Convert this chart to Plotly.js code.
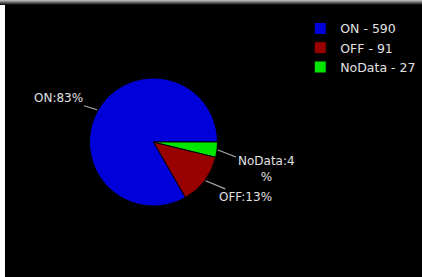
<!DOCTYPE html>
<html><head><meta charset="utf-8">
<script src="https://cdn.plot.ly/plotly-3.0.1.min.js"></script>
<style>
html,body{margin:0;padding:0;background:#fff;width:422px;height:277px;overflow:hidden;}
#wrap{position:absolute;left:5px;top:0;width:417px;height:277px;background:#000;}
#topbar{position:absolute;left:0;top:0;width:422px;height:5px;background:linear-gradient(#c8c8c8,#000);z-index:5;}
#chart{position:absolute;left:0;top:0;width:417px;height:277px;}
</style></head>
<body>
<div id="wrap"><div id="chart"></div></div>
<div id="topbar"></div>
<script>
const categories = ["ON", "OFF", "NoData"];
const counts = [590, 91, 27];
const percentLabels = ["83%", "13%", "4\n%"];
const colors = ["#0000d8", "#990000", "#00e600"];

const W = 417, H = 277;
const dom = {x: [0.2026, 0.5096], y: [0.2563, 0.7184]};
const cx = (dom.x[0] + dom.x[1]) / 2, cy = (dom.y[0] + dom.y[1]) / 2;
const rpx = (dom.x[1] - dom.x[0]) * W / 2;

const total = counts.reduce((a, b) => a + b, 0);
const legendLabels = categories.map((c, i) => c + " - " + counts[i]);
// label offsets (px) of text from slice edge
const offs = [[-40, -12], [41, 17], [49, 19]];

const annotations = [];
let start = 0;
counts.forEach((v, i) => {
  const sweep = v / total * 360;
  const mid = (start + sweep / 2) * Math.PI / 180; // CCW from 3 o'clock
  start += sweep;
  const px = cx + rpx * Math.cos(mid) / W;
  const py = cy + rpx * Math.sin(mid) / H;
  annotations.push({
    xref: "paper", yref: "paper", x: px, y: py,
    text: categories[i] + ":" + percentLabels[i].replace("\n", "<br>"),
    showarrow: true, arrowhead: 0, arrowwidth: 1.2, arrowcolor: "#aaaaaa",
    ax: offs[i][0], ay: offs[i][1], standoff: 1,
    font: {family: "DejaVu Sans", size: 12, color: "#e0e0e0"}, align: "center"
  });
});

const data = [{
  type: "pie",
  labels: legendLabels,
  values: counts,
  sort: false,
  direction: "counterclockwise",
  rotation: 90 + 360 * (1 - counts[0] / total),
  marker: {colors: colors, line: {color: "#000", width: 1}},
  textinfo: "none",
  hoverinfo: "label+percent",
  domain: dom
}];

const layout = {
  width: W, height: H,
  margin: {l: 0, r: 0, t: 0, b: 0, autoexpand: false},
  paper_bgcolor: "#000", plot_bgcolor: "#000",
  showlegend: true,
  legend: {x: 0.708, y: 0.95, xanchor: "left", yanchor: "top",
    font: {family: "DejaVu Sans", size: 12.5, color: "#e0e0e0"},
    bgcolor: "rgba(0,0,0,0)", tracegroupgap: 0},
  annotations: annotations
};

Plotly.newPlot("chart", data, layout, {staticPlot: true});
</script>
</body></html>
